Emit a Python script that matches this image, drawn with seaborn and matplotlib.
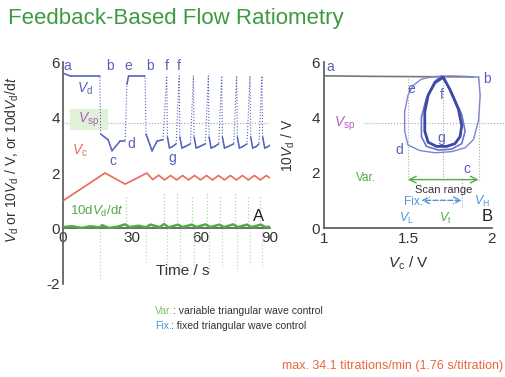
import numpy as np
import pandas as pd
import matplotlib
matplotlib.use("Agg")
import matplotlib.pyplot as plt
import seaborn as sns

# ---------------- data ----------------
# A : time traces
t_vd = [0, 3, 16, 16.4, 19.6, 21.3, 24.8, 27, 27.8, 28.5, 35.7, 36.1, 37, 38.7, 40.9, 43.5, 45.1,
        45.4, 46.3, 47.5, 49.2, 50.5,
        50.8, 51.7, 53.0, 55.4, 56.7,
        57.0, 57.9, 59.3, 61.9, 63.2,
        63.5, 64.4, 65.8, 67.7, 69.0,
        69.3, 70.2, 71.6, 74.2, 75.5,
        75.8, 76.7, 78.1, 80.0, 81.3,
        81.6, 82.5, 83.9, 85.2, 86.5,
        86.8, 87.7, 89.0, 90]
vd = [5.6, 5.5, 5.5, 3.4, 3.2, 2.8, 3.15, 3.15, 5.2, 5.5, 5.5, 3.4, 3.2, 2.8, 3.15, 3.2, 5.5,
      3.3, 2.9, 2.95, 3.05, 5.5,
      3.3, 2.9, 2.95, 3.05, 5.5,
      3.3, 2.9, 2.95, 3.05, 5.5,
      3.3, 2.9, 2.95, 3.05, 5.5,
      3.3, 2.9, 2.95, 3.05, 5.5,
      3.3, 2.9, 2.95, 3.05, 5.5,
      3.3, 2.9, 2.95, 3.05, 5.5,
      3.3, 2.9, 2.95, 3.0]

t_vc = [0, 18.3, 27, 36.5, 39, 41.6, 44.2, 46.8, 49.4, 52, 54.6, 57.2, 59.8, 62.4, 65,
        67.6, 70.2, 72.8, 75.4, 78, 80.6, 83.2, 85.8, 88.4, 90]
vc = [1.0, 2.0, 1.6, 2.0, 1.76, 1.92, 1.75, 1.91, 1.75, 1.91, 1.75, 1.91, 1.75, 1.91, 1.75,
      1.91, 1.75, 1.91, 1.75, 1.91, 1.75, 1.91, 1.75, 1.91, 1.82]

t_dv = [0, 4, 8, 12, 16, 17, 20, 24, 27, 29, 33, 36, 38, 42, 44, 46, 50, 52, 56, 58, 62, 64,
        68, 70, 74, 76, 80, 82, 86, 88, 90]
dv = [0.05, 0.08, 0.02, 0.08, 0.04, 0.12, 0.02, 0.07, 0.15, 0.05, 0.1, 0.04, 0.14, 0.05, 0.16,
      0.04, 0.14, 0.05, 0.14, 0.05, 0.15, 0.05, 0.14, 0.05, 0.15, 0.05, 0.14, 0.05, 0.14, 0.05,
      0.06]

# derivative spikes (rises -> up, falls -> down)
t_rise = [27.3, 44, 49.7, 55.9, 62.4, 68.2, 74.7, 80.5, 85.7]
h_rise = [1.2, 1.3, 1.3, 1.2, 1.3, 1.2, 1.3, 1.2, 1.2]
t_fall = [16.2, 35.9, 45.3, 50.7, 56.9, 63.4, 69.2, 75.7, 81.5, 86.7]
h_fall = [-1.9, -1.2, -1.5, -1.6, -1.5, -1.6, -1.4, -1.5, -1.3, -1.4]

vsp = 3.8

# B : 10Vd vs Vc
vc_ab = [1.0, 1.3, 1.6, 1.89]
vd_ab = [5.5, 5.48, 5.47, 5.46]

vc_outer = [1.92, 1.93, 1.92, 1.89, 1.84, 1.76, 1.66, 1.57, 1.50, 1.48, 1.48, 1.50, 1.53, 1.58,
            1.65, 1.75, 1.85, 1.92]
vd_outer = [5.45, 4.8, 3.9, 3.2, 2.9, 2.76, 2.72, 2.8, 3.0, 3.5, 4.2, 4.8, 5.15, 5.38,
            5.47, 5.5, 5.48, 5.45]

vc_inner = [1.71, 1.75, 1.80, 1.82, 1.81, 1.78, 1.73, 1.67, 1.62, 1.60, 1.60, 1.62, 1.66, 1.71]
vd_inner = [5.45, 5.0, 4.3, 3.7, 3.3, 3.05, 2.95, 2.95, 3.1, 3.5, 4.2, 4.8, 5.25, 5.45]

vc_inner2 = [1.70, 1.76, 1.82, 1.84, 1.82, 1.76, 1.68, 1.61, 1.58, 1.58, 1.61, 1.66, 1.70]
vd_inner2 = [5.5, 4.9, 4.1, 3.5, 3.05, 2.85, 2.82, 2.95, 3.3, 4.0, 4.7, 5.3, 5.5]

vc_scan = [1.50, 1.71, 1.92]      # V_L, V_t, V_H
vc_fix = [1.58, 1.82]

# ---------------- style ----------------
sns.set_theme(style="white")
plt.rcParams["font.family"] = ["Liberation Sans", "DejaVu Sans"]
plt.rcParams["mathtext.fontset"] = "custom"
plt.rcParams["mathtext.rm"] = "Liberation Sans"
plt.rcParams["mathtext.it"] = "Liberation Sans:italic"
plt.rcParams["axes.unicode_minus"] = False

blue = "#5561bd"
red = "#ea6a55"
green = "#52aa45"
magenta = "#b65cc0"
lblue = "#4f95d8"
dark = "#333333"

fig = plt.figure(figsize=(5.06, 3.77), dpi=100)
fig.patch.set_facecolor("white")

fig.text(0.016, 0.952, "Feedback-Based Flow Ratiometry", color="#3e9a3e", fontsize=16,
         va="center", ha="left")

# ---------------- panel A ----------------
axA = fig.add_axes([0.1245, 0.2467, 0.4091, 0.5888])
df_vd = pd.DataFrame({"t": t_vd, "v": vd})
df_vc = pd.DataFrame({"t": t_vc, "v": vc})
df_dv = pd.DataFrame({"t": t_dv, "v": dv})

axA.axhline(vsp, color="#aaaaaa", lw=0.8, ls=":", zorder=1)
axA.vlines(t_fall, 0, h_fall, colors="#c8d0c8", lw=0.9, ls=":", zorder=1)
axA.vlines(t_rise, 0, h_rise, colors="#a8d898", lw=0.9, ls=":", zorder=1)

sns.lineplot(data=df_vd, x="t", y="v", ax=axA, color=blue, lw=0.8, ls=":", estimator=None,
             sort=False, zorder=3)
for i in range(len(t_vd) - 1):
    slope = abs(vd[i + 1] - vd[i]) / (t_vd[i + 1] - t_vd[i])
    if slope < 1.0:
        axA.plot(t_vd[i:i + 2], vd[i:i + 2], color=blue, lw=1.1, zorder=3)

sns.lineplot(data=df_vc, x="t", y="v", ax=axA, color=red, lw=1.2, estimator=None, zorder=3)
sns.lineplot(data=df_dv, x="t", y="v", ax=axA, color=green, lw=1.8, estimator=None, zorder=3)

axA.set_xlim(0, 90)
axA.set_ylim(-2, 6)
axA.set_xticks([0, 30, 60, 90])
axA.set_yticks([-2, 0, 2, 4, 6])
axA.spines["top"].set_visible(False)
axA.spines["right"].set_visible(False)
axA.spines["bottom"].set_position(("data", 0))
for s in ["left", "bottom"]:
    axA.spines[s].set_color("#555555")
    axA.spines[s].set_linewidth(1.2)
axA.tick_params(axis="both", labelsize=11, colors=dark, length=3, direction="in", pad=2)
axA.set_xlabel("Time / s", fontsize=11, color=dark)
axA.xaxis.set_label_coords(0.58, 0.09)
axA.set_ylabel(r"$V_\mathrm{d}$ or 10$V_\mathrm{d}$ / V, or 10d$V_\mathrm{d}$/d$t$",
               fontsize=10, color=dark)
axA.yaxis.set_label_coords(-0.205, 0.56)

# labels in panel A
for txt, x, y in [("a", 1.7, 5.86), ("b", 20.4, 5.86), ("e", 28.3, 5.86), ("b", 37.8, 5.86),
                  ("f", 45.2, 5.86), ("f", 50.4, 5.86), ("c", 21.7, 2.45), ("d", 29.5, 3.04),
                  ("g", 47.4, 2.55)]:
    axA.text(x, y, txt, color=blue, fontsize=10, ha="center", va="center")
axA.text(9.5, 5.05, r"$V_\mathrm{d}$", color=blue, fontsize=10, ha="center", va="center")
axA.add_patch(plt.Rectangle((3, 3.55), 16.5, 0.75, color="#dff2d8", zorder=2, lw=0))
axA.text(11, 3.93, r"$V_\mathrm{sp}$", color=magenta, fontsize=10, ha="center", va="center",
         zorder=4)
axA.text(7.5, 2.8, r"$V_\mathrm{c}$", color=red, fontsize=10, ha="center", va="center")
axA.text(3, 0.62, r"10d$V_\mathrm{d}$/d$t$", color=green, fontsize=9.5, ha="left", va="center")
axA.text(85, 0.45, "A", color="#222222", fontsize=12, ha="center", va="center")

# ---------------- panel B ----------------
axB = fig.add_axes([0.6403, 0.3952, 0.332, 0.4403])
df_ab = pd.DataFrame({"vc": vc_ab, "vd": vd_ab})
df_out = pd.DataFrame({"vc": vc_outer, "vd": vd_outer})
df_in = pd.DataFrame({"vc": vc_inner, "vd": vd_inner})
df_in2 = pd.DataFrame({"vc": vc_inner2, "vd": vd_inner2})

axB.plot([1.24, 2.1], [vsp, vsp], color="#aaaaaa", lw=0.8, ls=":", clip_on=False, zorder=1)
axB.vlines(vc_scan, 1.75, 5.5, colors="#aaaaaa", lw=0.8, ls=":", zorder=1)
axB.vlines([vc_fix[1]], 0.75, 1.75, colors="#aaaaaa", lw=0.8, ls=":", zorder=1)

for d, col, lw, z in [(df_ab, "#777777", 1.2, 3), (df_out, "#7b86cf", 1.0, 3),
                      (df_in2, "#6a73c6", 1.2, 3), (df_in, "#3d47a8", 2.0, 4)]:
    sns.lineplot(data=d, x="vc", y="vd", ax=axB, color=col, lw=lw, sort=False,
                 estimator=None, zorder=z)

# scan range arrows
axB.annotate("", xy=(vc_scan[0], 1.75), xytext=(vc_scan[2], 1.75),
             arrowprops=dict(arrowstyle="<->", color=green, lw=1.0, shrinkA=0, shrinkB=0))
axB.annotate("", xy=(vc_fix[0], 1.0), xytext=(vc_fix[1], 1.0),
             arrowprops=dict(arrowstyle="<->", color=lblue, lw=1.0, ls="--", shrinkA=0,
                             shrinkB=0))

axB.set_xlim(1, 2)
axB.set_ylim(0, 6)
axB.set_xticks([1, 1.5, 2])
axB.set_xticklabels(["1", "1.5", "2"])
axB.set_yticks([0, 2, 4, 6])
axB.spines["top"].set_visible(False)
axB.spines["right"].set_visible(False)
for s in ["left", "bottom"]:
    axB.spines[s].set_color("#555555")
    axB.spines[s].set_linewidth(1.2)
axB.tick_params(axis="both", labelsize=11, colors=dark, length=3, direction="in", pad=3)
axB.set_xlabel(r"$V_\mathrm{c}$ / V", fontsize=11, color=dark, labelpad=6)
axB.set_ylabel(r"10$V_\mathrm{d}$ / V", fontsize=10, color=dark, labelpad=10)

for txt, x, y in [("a", 1.04, 5.82), ("b", 1.97, 5.4), ("e", 1.52, 5.04), ("f", 1.70, 4.79),
                  ("g", 1.70, 3.25), ("d", 1.45, 2.82), ("c", 1.85, 2.14)]:
    axB.text(x, y, txt, color=blue, fontsize=10, ha="center", va="center", zorder=5)
axB.text(1.125, 3.75, r"$V_\mathrm{sp}$", color=magenta, fontsize=10, ha="center", va="center")
axB.text(1.31, 1.79, "Var.", color=green, fontsize=8.5, ha="right", va="center")
axB.text(1.71, 1.36, "Scan range", color=dark, fontsize=8, ha="center", va="center")
axB.text(1.535, 0.95, "Fix.", color=lblue, fontsize=8.5, ha="center", va="center")
axB.text(1.94, 0.95, r"$V_\mathrm{H}$", color=lblue, fontsize=9, ha="center", va="center")
axB.text(1.49, 0.36, r"$V_\mathrm{L}$", color=lblue, fontsize=9, ha="center", va="center")
axB.text(1.72, 0.36, r"$V_\mathrm{t}$", color=green, fontsize=9, ha="center", va="center")
axB.text(1.97, 0.43, "B", color="#222222", fontsize=12, ha="center", va="center")

# ---------------- notes ----------------
fig.text(0.306, 0.175, "Var.", color="#7cc46a", fontsize=7.5, va="center")
fig.text(0.342, 0.175, ": variable triangular wave control", color=dark, fontsize=7.5,
         va="center")
fig.text(0.306, 0.135, "Fix.", color=lblue, fontsize=7.5, va="center")
fig.text(0.337, 0.135, ": fixed triangular wave control", color=dark, fontsize=7.5, va="center")
fig.text(0.995, 0.03, "max. 34.1 titrations/min (1.76 s/titration)", color="#e8683e",
         fontsize=9, ha="right", va="center")

plt.savefig("out.png", dpi=100, facecolor="white")
